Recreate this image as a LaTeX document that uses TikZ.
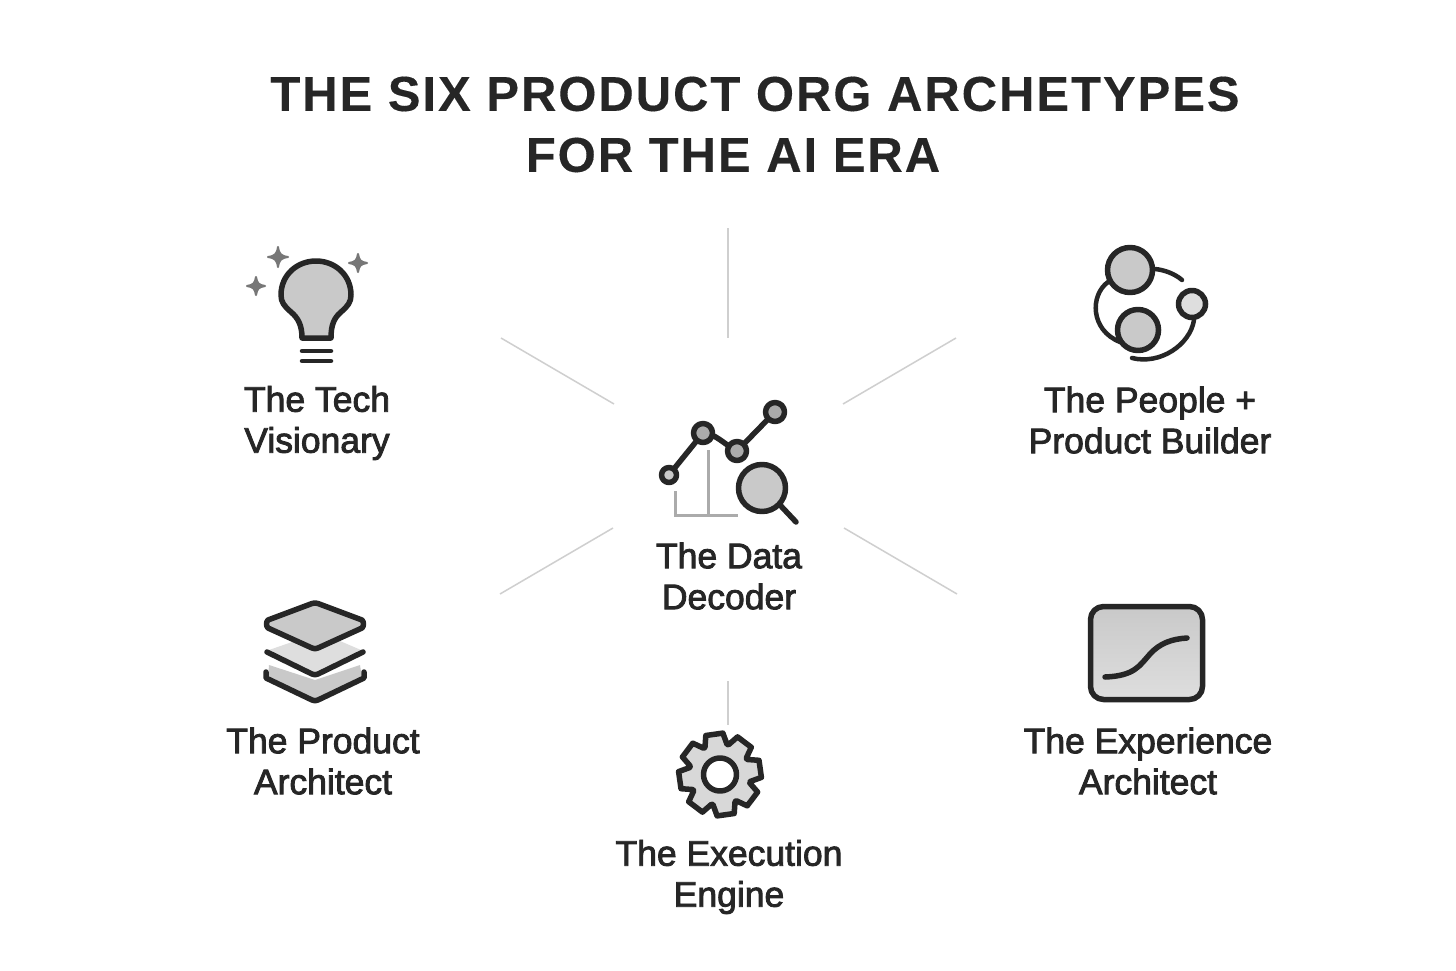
\documentclass[tikz,border=0pt]{standalone}
\usepackage{fontspec}
\setmainfont{Liberation Sans}
\newfontfamily\titlefont[LetterSpace=4,FakeBold=0.2]{Liberation Sans Bold}
\newfontfamily\labelfont[FakeBold=2.4]{Liberation Sans}
\definecolor{ink}{HTML}{262626}
\definecolor{fillgray}{HTML}{C9C9C9}
\definecolor{lightgray}{HTML}{DEDEDE}
\definecolor{spokegray}{HTML}{CFCFCF}
\definecolor{axisgray}{HTML}{ABABAB}
\definecolor{stargray}{HTML}{777777}
\tikzset{
  titletext/.style={text=ink,font=\titlefont\fontsize{49}{56}\selectfont,inner sep=0pt},
  labeltext/.style={text=ink,font=\labelfont\fontsize{35.5}{41}\selectfont,align=center,inner sep=0pt},
  spoke/.style={draw=spokegray,line width=1.5pt},
  icon/.style={draw=ink,line width=5.5pt,line join=round,line cap=round},
  thinicon/.style={icon,line width=4.5pt},
  axis/.style={draw=axisgray,line width=3pt},
  sparkle/.style={fill=stargray,draw=stargray,line width=2pt,line join=round}
}
\newcommand{\sparkleat}[3]{\fill[sparkle] (#1,#2) ++(0,-#3) .. controls ++(1,#3*0.7) and ++(-#3*0.7,-1) .. ++(#3,#3) .. controls ++(-#3*0.7,1) and ++(1,-#3*0.7) .. ++(-#3,#3) .. controls ++(-1,-#3*0.7) and ++(#3*0.7,1) .. ++(-#3,-#3) .. controls ++(#3*0.7,-1) and ++(-1,#3*0.7) .. cycle;}
\begin{document}
\begin{tikzpicture}[x=1pt,y=-1pt]
\useasboundingbox (0,0) rectangle (1456,971);
\fill[white] (0,0) rectangle (1456,971);
% title
\node[titletext] (t1) at (755,94) {THE SIX PRODUCT ORG ARCHETYPES};
\node[titletext] (t2) at (733,155) {FOR THE AI ERA};
% spokes
\coordinate (s1a) at (728,228); \coordinate (s1b) at (728,338);
\coordinate (s2a) at (501,338); \coordinate (s2b) at (614,404);
\coordinate (s3a) at (956,338); \coordinate (s3b) at (843,404);
\coordinate (s4a) at (500,594); \coordinate (s4b) at (613,528);
\coordinate (s5a) at (957,594); \coordinate (s5b) at (844,528);
\coordinate (s6a) at (728,681); \coordinate (s6b) at (728,725);
\draw[spoke] (s1a)--(s1b); \draw[spoke] (s2a)--(s2b); \draw[spoke] (s3a)--(s3b);
\draw[spoke] (s4a)--(s4b); \draw[spoke] (s5a)--(s5b); \draw[spoke] (s6a)--(s6b);
% labels
\node[labeltext] (l1) at (317,423) {The Tech\\Visionary};
\node[labeltext] (l2) at (1150,420) {The People +\\Product Builder};
\node[labeltext] (l3) at (729,576) {The Data\\Decoder};
\node[labeltext] (l4) at (323,761) {The Product\\Architect};
\node[labeltext] (l5) at (1148,761) {The Experience\\Architect};
\node[labeltext] (l6) at (729,877) {The Execution\\Engine};
% bulb
\draw[icon,fill=fillgray] (302,338) .. controls (302,325) and (298,318) .. (291,312)
  .. controls (284,306) and (281,302) .. (281,295)
  .. controls (281,275) and (297,261) .. (316,261)
  .. controls (335,261) and (351,275) .. (351,295)
  .. controls (351,302) and (348,306) .. (341,312)
  .. controls (334,318) and (331,325) .. (331,338) -- cycle;
\draw[thinicon] (302,351)--(331,351);
\draw[thinicon] (302,361)--(331,361);
\sparkleat{278}{257}{10}
\sparkleat{256}{286}{9}
\sparkleat{358}{263}{9}
% data
\draw[axis] (675,491)--(675,515)--(738,515);
\draw[axis] (708,450)--(708,515);
\draw[icon] (669,475)--(703,433) .. controls (715,433) and (725,445) .. (737,451) -- (775,412);
\draw[icon,fill=fillgray] (669,475) circle (7.5);
\draw[icon,fill=axisgray] (703,433) circle (9.5);
\draw[icon,fill=axisgray] (737,451) circle (9.5);
\draw[icon,fill=axisgray] (775,412) circle (9.5);
\draw[icon] (780,505)--(796,522);
\draw[icon,fill=fillgray] (762,488) circle (23.5);
% people
\draw[thinicon] (1155,269) .. controls (1165,270) and (1175,274) .. (1182,280);
\draw[thinicon] (1108,282) .. controls (1090,295) and (1090,330) .. (1120,342);
\draw[thinicon] (1194,320) .. controls (1190,345) and (1160,365) .. (1132,358);
\draw[icon,fill=fillgray] (1130,270) circle (22.5);
\draw[icon,fill=fillgray] (1138,330) circle (20.5);
\draw[icon,fill=lightgray] (1192,304) circle (13.5);
% layers
\fill[lightgray] (269,650)--(295,641)--(340,641)--(361,650)--(315,672)--cycle;
\fill[fillgray] (269,665)--(315,680)--(360,665)--(362,678)--(315,700)--(268,678)--cycle;
\draw[icon,fill=fillgray] (268,620) -- (312,603.5) .. controls (314,602.8) and (316,602.8) .. (318,603.5) -- (362,620) .. controls (364,622) and (364,626) .. (362,628) -- (318,648) .. controls (316,649) and (314,649) .. (312,648) -- (268,628) .. controls (266,626) and (266,622) .. (268,620) -- cycle;
\draw[icon] (267,652)--(312,674) .. controls (314,675) and (316,675) .. (318,674) -- (363,652);
\draw[icon] (266,672)--(266,678) -- (312,700) .. controls (314,701) and (316,701) .. (318,700) -- (364,678) -- (364,672);
% gear
\begin{scope}[shift={(720,774.5)},y=1pt]
\draw[icon,fill=lightgray!70!fillgray] (-12:32)
  \foreach \a in {8,53,98,143,188,233,278,323} { -- (\a-21:31) -- (\a-12:41.5) -- (\a+12:41.5) -- (\a+21:31) } -- cycle;
\draw[icon,fill=white] (0,0) circle (16.5);
\end{scope}
% experience
\shade[shading angle=20,top color=fillgray,bottom color=lightgray,rounded corners=13pt] (1090.5,606.5) rectangle (1202.5,699.5);
\draw[icon,rounded corners=13pt] (1090.5,606.5) rectangle (1202.5,699.5);
\draw[icon] (1105,677) .. controls (1135,676) and (1140,665) .. (1150,654) .. controls (1160,643) and (1172,639) .. (1187,638);
\end{tikzpicture}
\end{document}
